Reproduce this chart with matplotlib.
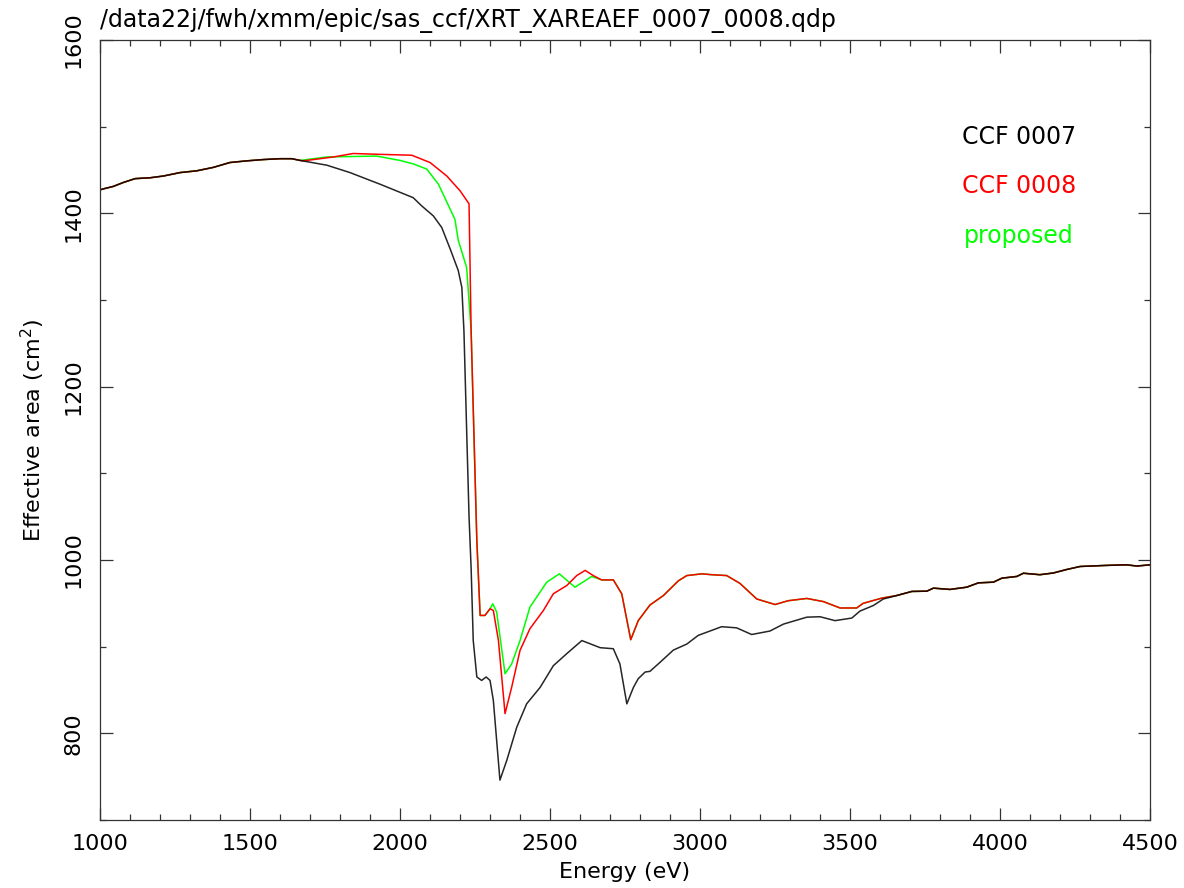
import numpy as np
import matplotlib.pyplot as plt
from matplotlib.ticker import MultipleLocator

# shared low-energy part (all three curves agree)
lo_e = [1000, 1009, 1044, 1078, 1117, 1167, 1211, 1267, 1322, 1378, 1433, 1489, 1544, 1600, 1639, 1667]
lo_a = [1427, 1428, 1431, 1435.6, 1440, 1441, 1443, 1447, 1449, 1453, 1458.6, 1460.5, 1462, 1463, 1463, 1461]

# shared high-energy part
hi_e = [3656, 3706, 3756, 3778, 3833, 3889, 3928, 3978, 4006, 4056, 4078, 4133, 4178, 4222, 4267, 4344, 4378, 4422, 4456, 4500]
hi_a = [959, 963.7, 964, 967.5, 966, 968.6, 973.6, 974.4, 979, 981, 984.7, 983, 985, 989, 992.5, 993.6, 994, 994.4, 993, 994.4]

# CCF 0007
e7 = [1756, 1833, 1933, 2044, 2072, 2111, 2139, 2167, 2194, 2206, 2213, 2222, 2230, 2237, 2244, 2256,
      2272, 2287, 2300, 2311, 2333, 2356, 2389, 2422, 2467, 2511, 2556, 2606, 2667, 2711, 2733, 2756,
      2778, 2794, 2817, 2833, 2867, 2911, 2956, 2994, 3033, 3072, 3122, 3172, 3233, 3278, 3356, 3400,
      3450, 3506, 3533, 3578, 3611]
a7 = [1455.5, 1447, 1433.6, 1418, 1408.6, 1397, 1383.6, 1359, 1334, 1314.5, 1264, 1150, 1050, 990, 907, 865,
      861, 865, 861, 838, 746, 769, 807, 834, 853, 878, 892, 907, 898.8, 897.6, 880, 834,
      853, 863, 870.7, 871.5, 882, 896, 903, 913, 918, 923, 921.7, 914, 918, 926, 934, 934.5,
      930, 933, 941, 947.5, 955]

# CCF 0008
e8 = [1678, 1778, 1844, 1933, 2039, 2100, 2156, 2200, 2230, 2237, 2256, 2267, 2283, 2300, 2311, 2328,
      2350, 2372, 2400, 2433, 2478, 2511, 2556, 2589, 2617, 2644, 2672, 2711, 2739, 2769, 2794, 2833,
      2878, 2928, 2956, 3006, 3039, 3089, 3133, 3189, 3250, 3294, 3356, 3411, 3467, 3522, 3544, 3606]
a8 = [1460.5, 1465, 1469, 1468, 1467, 1458.6, 1443, 1426, 1411, 1264, 1022, 936, 936, 943.7, 941.8, 907,
      822.7, 853, 895.7, 920.7, 941.8, 961, 970.6, 982, 988, 982, 977, 977, 961, 908, 930, 948,
      959, 976, 982, 984, 983, 982, 973, 955, 948.6, 953, 955.6, 952, 944.6, 944.6, 950, 956]

# proposed
ep = [1756, 1922, 2000, 2044, 2089, 2128, 2183, 2194, 2222, 2237, 2256, 2267, 2283, 2300, 2309, 2322,
      2350, 2372, 2400, 2433, 2489, 2531, 2583, 2639, 2672]
ap = [1465, 1466, 1461, 1457, 1451, 1433.6, 1393, 1369, 1337.5, 1264, 1022, 936, 936, 943.7, 949.5, 940,
      868.7, 880, 907, 945.6, 974.4, 984, 968.6, 981, 977]
# after 2672 eV proposed follows CCF 0008
i8 = e8.index(2672)

fig = plt.figure(figsize=(11.84, 8.88), dpi=100)
ax = fig.add_axes([0.0845, 0.0766, 0.8868, 0.8784])

ax.plot(lo_e + ep + e8[i8 + 1:] + hi_e, lo_a + ap + a8[i8 + 1:] + hi_a, color='#00ff00', lw=1.1)
ax.plot(lo_e + e8 + hi_e, lo_a + a8 + hi_a, color='#ff0000', lw=1.1)
ax.plot(lo_e + e7 + hi_e, lo_a + a7 + hi_a, color='black', lw=1.1, alpha=0.85)

ax.set_xlim(1000, 4500)
ax.set_ylim(700, 1600)
ax.xaxis.set_major_locator(MultipleLocator(500))
ax.xaxis.set_minor_locator(MultipleLocator(100))
ax.yaxis.set_major_locator(MultipleLocator(200))
ax.yaxis.set_minor_locator(MultipleLocator(100))
ax.tick_params(which='both', direction='in', top=True, right=True, labelsize=16, color='#333333')
ax.tick_params(axis='y', pad=12)
ax.tick_params(axis='x', pad=10)
ax.tick_params(which='major', length=9, width=0.9)
ax.tick_params(which='minor', length=4.5, width=0.9)
for lab in ax.get_yticklabels():
    lab.set_rotation(90)
    lab.set_va('center')
for s in ax.spines.values():
    s.set_linewidth(0.9)
    s.set_color('#333333')

ax.set_xlabel('Energy (eV)', fontsize=16, labelpad=6)
ax.set_ylabel('Effective area (cm$^2$)', fontsize=16, labelpad=12)
fig.text(0.0845, 0.977, '/data22j/fwh/xmm/epic/sas_ccf/XRT_XAREAEF_0007_0008.qdp', fontsize=17, va='center')

ax.text(0.875, 0.876, 'CCF 0007', transform=ax.transAxes, color='black', fontsize=17, ha='center', va='center')
ax.text(0.875, 0.813, 'CCF 0008', transform=ax.transAxes, color='#ff0000', fontsize=17, ha='center', va='center')
ax.text(0.875, 0.749, 'proposed', transform=ax.transAxes, color='#00ff00', fontsize=17, ha='center', va='center')

fig.savefig('out.png', dpi=100)
